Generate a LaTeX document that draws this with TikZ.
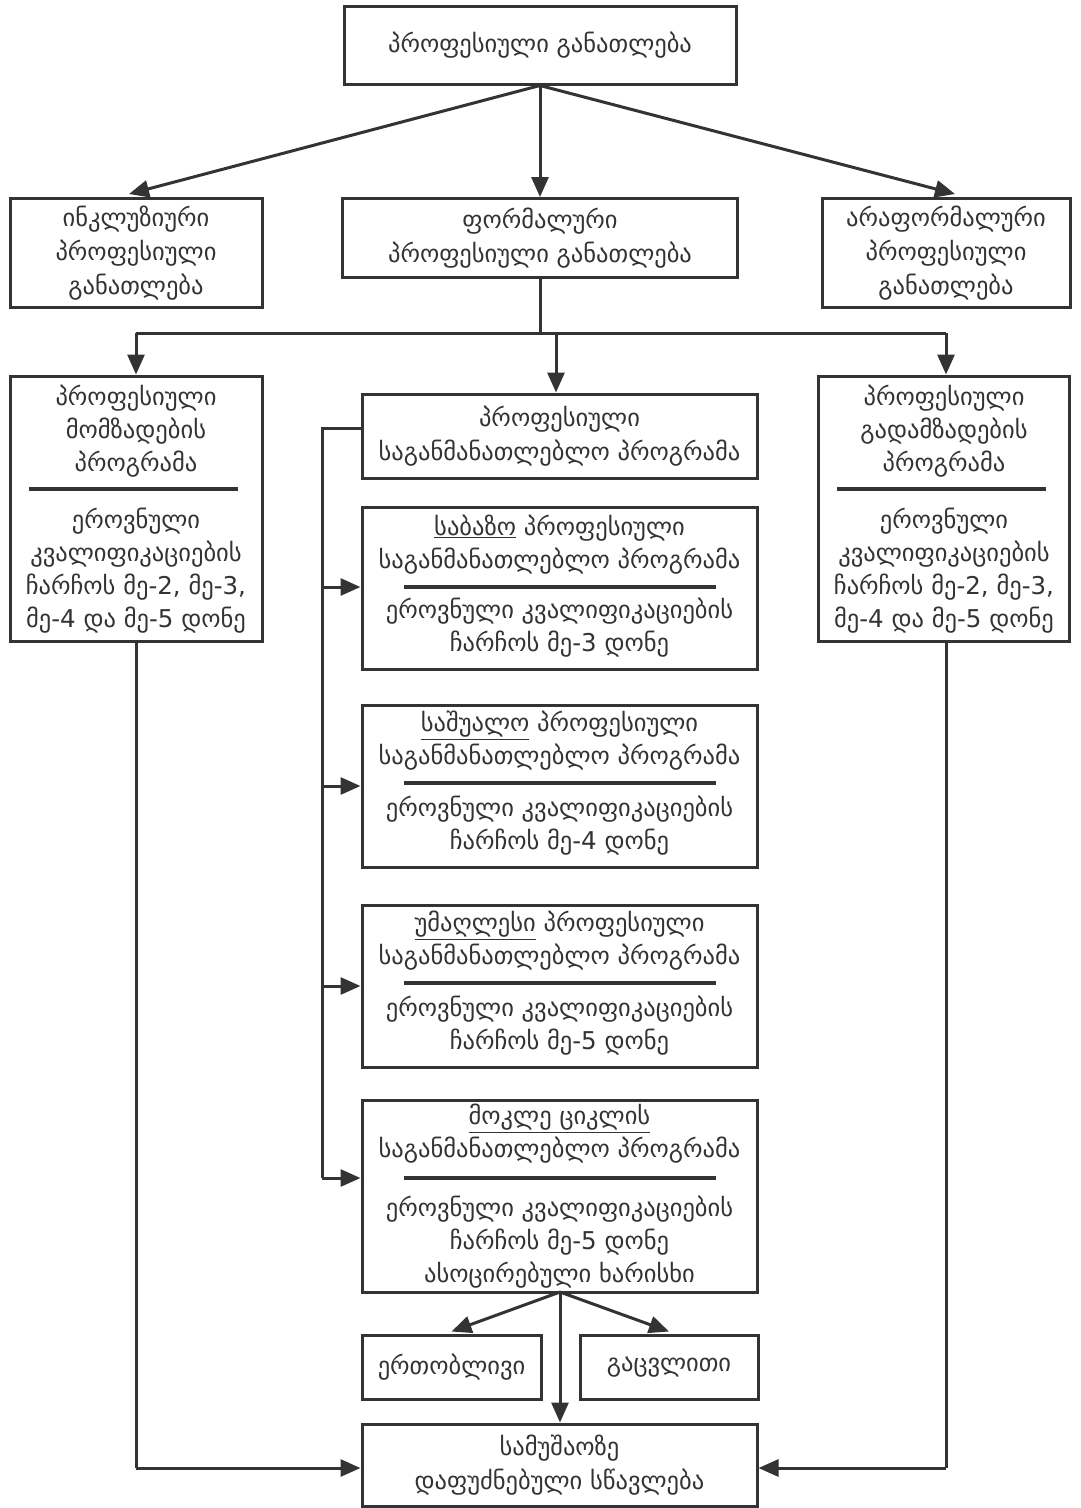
\documentclass[tikz,border=0pt]{standalone}
\usepackage{fontspec}
\setmainfont{DejaVu Sans}
\usetikzlibrary{arrows.meta}
\definecolor{ink}{HTML}{333333}
\begin{document}
\begin{tikzpicture}[x=1pt,y=-1pt,
  txt/.style={text=ink, font=\fontsize{24.5}{33}\selectfont, align=center, inner sep=0pt},
  box/.style={draw=ink, line width=3pt, inner sep=0pt, text=ink, font=\fontsize{24.5}{34}\selectfont, align=center},
  divider/.style={draw=ink, line width=4pt},
  line/.style={draw=ink, line width=3pt},
  arr/.style={draw=ink, line width=3pt, -{Triangle[length=20pt,width=17pt]}}
]
\useasboundingbox (0,0) rectangle (1080,1508);
\fill[white] (0,0) rectangle (1080,1508);

% top level
\node[box, minimum width=392pt, minimum height=78pt] (top) at (540,45) {პროფესიული განათლება};
\node[box, minimum width=252pt, minimum height=109pt] (incl) at (136,253) {ინკლუზიური\\პროფესიული\\განათლება};
\node[box, minimum width=395pt, minimum height=79pt] (formal) at (540,238) {ფორმალური\\პროფესიული განათლება};
\node[box, minimum width=248pt, minimum height=109pt] (nonf) at (946,253) {არაფორმალური\\პროფესიული\\განათლება};

% second level
\node[box, minimum width=252pt, minimum height=265pt] (prep) at (136,508.5) {};
\node[txt] (prepA) at (136,431) {პროფესიული\\მომზადების\\პროგრამა};
\node[txt] (prepB) at (136,571) {ეროვნული\\კვალიფიკაციების\\ჩარჩოს მე-2, მე-3,\\მე-4 და მე-5 დონე};
\draw[divider] (29,489) -- (238,489);

\node[box, minimum width=251pt, minimum height=265pt] (retr) at (943.5,508.5) {};
\node[txt] (retrA) at (944,431) {პროფესიული\\გადამზადების\\პროგრამა};
\node[txt] (retrB) at (944,571) {ეროვნული\\კვალიფიკაციების\\ჩარჩოს მე-2, მე-3,\\მე-4 და მე-5 დონე};
\draw[divider] (837,489) -- (1046,489);

\node[box, minimum width=395pt, minimum height=84pt] (mid) at (559.5,436) {პროფესიული\\საგანმანათლებლო პროგრამა};

\node[box, minimum width=395pt, minimum height=162pt] (basic) at (559.5,588) {};
\node[txt] (basicA) at (559.5,545) {\underline{საბაზო} პროფესიული\\საგანმანათლებლო პროგრამა};
\node[txt] (basicB) at (559.5,628) {ეროვნული კვალიფიკაციების\\ჩარჩოს მე-3 დონე};
\draw[divider] (404,587) -- (716,587);

\node[box, minimum width=395pt, minimum height=162pt] (sec) at (559.5,786) {};
\node[txt] (secA) at (559.5,741) {\underline{საშუალო} პროფესიული\\საგანმანათლებლო პროგრამა};
\node[txt] (secB) at (559.5,826) {ეროვნული კვალიფიკაციების\\ჩარჩოს მე-4 დონე};
\draw[divider] (404,783) -- (716,783);

\node[box, minimum width=395pt, minimum height=162pt] (high) at (559.5,986) {};
\node[txt] (highA) at (559.5,941) {\underline{უმაღლესი} პროფესიული\\საგანმანათლებლო პროგრამა};
\node[txt] (highB) at (559.5,1026) {ეროვნული კვალიფიკაციების\\ჩარჩოს მე-5 დონე};
\draw[divider] (404,983) -- (716,983);

\node[box, minimum width=395pt, minimum height=192pt] (short) at (559.5,1196) {};
\node[txt] (shortA) at (559.5,1134) {\underline{მოკლე ციკლის}\\საგანმანათლებლო პროგრამა};
\node[txt] (shortB) at (559.5,1242) {ეროვნული კვალიფიკაციების\\ჩარჩოს მე-5 დონე\\ასოცირებული ხარისხი};
\draw[divider] (404,1178) -- (716,1178);

\node[box, minimum width=179pt, minimum height=64pt] (joint) at (451.5,1367) {ერთობლივი};
\node[box, minimum width=178pt, minimum height=64pt] (exch) at (669,1367) {გაცვლითი};

\node[box, minimum width=395pt, minimum height=82pt] (work) at (559.5,1465) {სამუშაოზე\\დაფუძნებული სწავლება};

% connectors top
\draw[arr] (top.south) -- (formal.north);
\draw[arr] (top.south) -- ([xshift=-7pt,yshift=3pt]incl.north);
\draw[arr] (top.south) -- ([xshift=9pt,yshift=3pt]nonf.north);

% formal split
\coordinate (jC) at (540,333);
\coordinate (jL) at (136,333);
\coordinate (jR) at (946,333);
\draw[line] (formal.south) -- (jC);
\draw[line] (jL) -- (jR);
\draw[arr] (jL) -- (prep.north);
\draw[arr] (jR) -- ([xshift=2.5pt]retr.north);
\draw[arr] (jC -| 556,0) -- ([xshift=-3.5pt]mid.north);

% bracket
\coordinate (bT) at (322,428);
\coordinate (bB) at (322,1178);
\draw[line] (mid.west |- bT) -- (bT) -- (bB);
\draw[arr] (322,587) -- (basic.west |- 0,587);
\draw[arr] (322,786) -- (sec.west);
\draw[arr] (322,986) -- (high.west);
\draw[arr] (bB) -- (short.west |- bB);

% short cycle outputs
\coordinate (sS) at (560,1292);
\draw[arr] (sS) -- ([yshift=2pt]joint.north);
\draw[arr] (sS) -- ([yshift=2pt]exch.north);
\draw[arr] (sS) -- (sS |- work.north);

% side to work
\coordinate (lC) at (136,1468);
\coordinate (rC) at (946,1468);
\draw[line] (prep.south) -- (lC);
\draw[arr] (lC) -- (work.west |- lC);
\draw[line] ([xshift=2.5pt]retr.south) -- (rC);
\draw[arr] (rC) -- (work.east |- rC);
\end{tikzpicture}
\end{document}
